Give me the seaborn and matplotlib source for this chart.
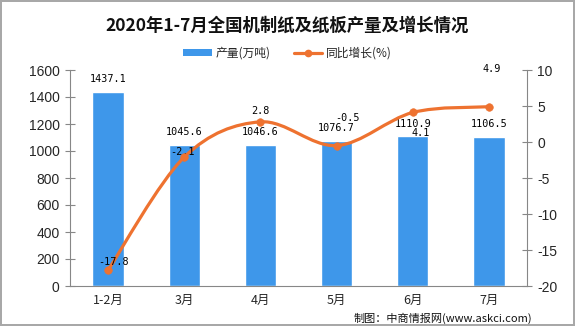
import numpy as np
import pandas as pd
import matplotlib
matplotlib.use("Agg")
import matplotlib.pyplot as plt
from matplotlib.path import Path
from matplotlib.patches import PathPatch, Patch
from matplotlib.lines import Line2D
import seaborn as sns

# ---- data ----
months = ["1-2月", "3月", "4月", "5月", "6月", "7月"]
output_wt = [1437.1, 1045.6, 1046.6, 1076.7, 1110.9, 1106.5]   # 产量(万吨)
growth_pct = [-17.8, -2.1, 2.8, -0.5, 4.1, 4.9]                 # 同比增长(%)
left_ticks = [0, 200, 400, 600, 800, 1000, 1200, 1400, 1600]
right_ticks = [-20, -15, -10, -5, 0, 5, 10]

title = "2020年1-7月全国机制纸及纸板产量及增长情况"
source = "制图：中商情报网(www.askci.com)"

BLUE = "#3E97EA"
ORANGE = "#EE7230"
GREY = "#878787"

sns.set_theme(style="white")
plt.rcParams["font.family"] = ["Noto Sans CJK SC", "DejaVu Sans"]
plt.rcParams["axes.unicode_minus"] = False

df = pd.DataFrame({"month": months, "output": output_wt, "growth": growth_pct})

fig = plt.figure(figsize=(5.75, 3.26), dpi=100)
fig.patch.set_facecolor("white")
fig.patch.set_edgecolor("#A8A8A8")
fig.patch.set_linewidth(1.5)

ax = fig.add_axes([70 / 575, 1 - 286 / 326, (527 - 70) / 575, (286 - 70) / 326])
sns.barplot(data=df, x="month", y="output", color=BLUE, width=0.41,
            saturation=1, ax=ax, zorder=2)
ax.set_xlim(-0.5, len(months) - 0.5)
ax.set_ylim(0, 1600)
ax.set_yticks(left_ticks)
ax.set_xlabel("")
ax.set_ylabel("")

tick_font = dict(family=["Liberation Sans", "DejaVu Sans"], size=10)
mono_font = dict(family=["DejaVu Sans Mono"], size=7.3)

ax.set_yticklabels([str(t) for t in left_ticks], fontdict=tick_font)
# x ticks sit on category boundaries; labels go in the middle
ax.set_xticks(np.arange(len(months)))
ax.set_xticklabels(months, fontsize=9, family=["Noto Sans CJK SC"])
ax.tick_params(axis="x", length=0, pad=6)
ax.set_xticks(np.arange(len(months) + 1) - 0.5, minor=True)
ax.tick_params(axis="x", which="minor", direction="inout", length=7, color=GREY, width=0.8)
ax.tick_params(axis="y", direction="inout", length=7, color=GREY, width=0.8, pad=4)

for s in ["top", "right"]:
    ax.spines[s].set_visible(False)
for s in ["left", "bottom"]:
    ax.spines[s].set_color(GREY)
    ax.spines[s].set_linewidth(0.8)

# bar value labels
for i, v in enumerate(output_wt):
    ax.annotate(f"{v:.1f}", (i, v), xytext=(0, 9), textcoords="offset points",
                ha="center", va="center", color="black", **mono_font)

# growth line on the right axis
ax2 = ax.twinx()
ax2.set_ylim(-20, 10)
ax2.set_yticks(right_ticks)
ax2.set_yticklabels([str(t) for t in right_ticks], fontdict=tick_font)
ax2.tick_params(axis="y", direction="inout", length=7, color=GREY, width=0.8, pad=4)
for s in ["top", "left", "bottom"]:
    ax2.spines[s].set_visible(False)
ax2.spines["right"].set_color(GREY)
ax2.spines["right"].set_linewidth(0.8)
ax2.grid(False)
ax.grid(False)

# smoothed curve through the points (Catmull-Rom as cubic Beziers)
xs = np.arange(len(growth_pct), dtype=float)
ys = np.asarray(growth_pct, dtype=float)
pts = np.column_stack([xs, ys])
ext = np.vstack([pts[0], pts, pts[-1]])
verts = [tuple(pts[0])]
codes = [Path.MOVETO]
t = 1 / 6
for k in range(1, len(ext) - 2):
    p0, p1, p2, p3 = ext[k - 1], ext[k], ext[k + 1], ext[k + 2]
    c1 = p1 + (p2 - p0) * t
    c2 = p2 - (p3 - p1) * t
    verts += [tuple(c1), tuple(c2), tuple(p2)]
    codes += [Path.CURVE4] * 3
ax2.add_patch(PathPatch(Path(verts, codes), facecolor="none", edgecolor=ORANGE,
                        linewidth=2.3, zorder=3, capstyle="round"))
sns.scatterplot(x=xs, y=ys, color=ORANGE, s=30, edgecolor=ORANGE, ax=ax2,
                zorder=4, legend=False)

line_offsets = [(4, 6), (-1, 4), (0, 8), (8, 20), (6, -15), (2, 27)]
for i, (v, off) in enumerate(zip(growth_pct, line_offsets)):
    ax2.annotate(f"{v:.1f}", (i, v), xytext=off, textcoords="offset points",
                 ha="center", va="center", color="black", **mono_font)

# title, legend, source
fig.text(0.5, 1 - 26 / 326, title, ha="center", va="center",
         fontsize=12.5, fontweight="bold", color="#111111",
         family=["Noto Sans CJK SC"])

handles = [Patch(facecolor=BLUE, edgecolor="none"),
           Line2D([0], [0], color=ORANGE, lw=2.3, marker="o", markersize=4.5)]
fig.legend(handles, ["产量(万吨)", "同比增长(%)"], loc="center",
           bbox_to_anchor=(0.5, 1 - 53 / 326), ncol=2, frameon=False,
           fontsize=8.5, handlelength=2.4, handleheight=0.55,
           handletextpad=0.3, columnspacing=2.0)

fig.text(532 / 575, 1 - 318 / 326, source, ha="right", va="center",
         fontsize=8, color="#111111", family=["Noto Sans CJK SC"])

fig.savefig("out.png", dpi=100, facecolor=fig.get_facecolor(),
            edgecolor=fig.get_edgecolor())
